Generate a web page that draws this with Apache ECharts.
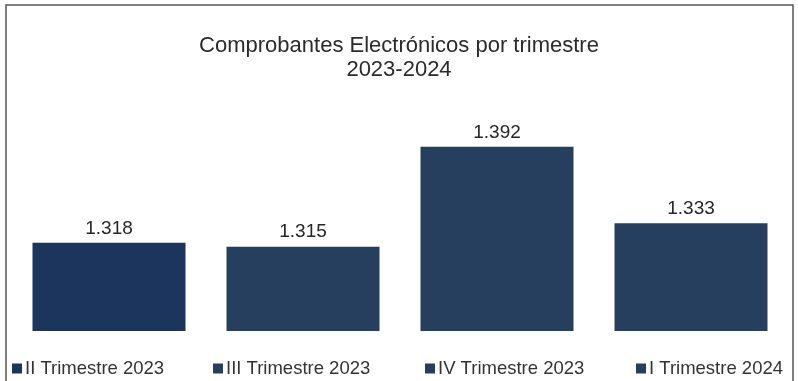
<!DOCTYPE html>
<html><head><meta charset="utf-8">
<script src="https://cdn.jsdelivr.net/npm/echarts@6/dist/echarts.min.js"></script>
<style>html,body{margin:0;padding:0;background:#fff}#c{width:798px;height:381px}</style>
</head><body><div id="c"></div>
<script>
var categories = ['II Trimestre 2023','III Trimestre 2023','IV Trimestre 2023','I Trimestre 2024'];
var values = [1.318, 1.315, 1.392, 1.333];
var colors = ['#1c355c','#273f5f','#273f5f','#273f5f'];
var legendLeft = [12, 213, 425, 636];

var chart = echarts.init(document.getElementById('c'));
var series = categories.map(function(name, i){
  var d = categories.map(function(_, j){ return j === i ? values[i] : null; });
  return {
    name: name, type: 'bar', stack: 'all', data: d, barWidth: 153,
    itemStyle: {color: colors[i]},
    label: {show: true, position: 'top', distance: 5, color: '#262626',
      fontFamily: 'Liberation Sans', fontSize: 19,
      formatter: function(p){ return p.value.toFixed(3); }}
  };
});
chart.setOption({
  animation: false,
  title: {text: 'Comprobantes Electrónicos por trimestre\n2023-2024', left: 'center', top: 34, padding: 0,
    textStyle: {fontFamily: 'Liberation Sans', fontSize: 22, fontWeight: 'normal', color: '#2b2b2b', lineHeight: 24}},
  legend: categories.map(function(name, i){
    return {data: [name], left: legendLeft[i], top: 359, padding: 0, icon: 'rect', itemWidth: 10, itemHeight: 10, itemGap: 0,
      textStyle: {fontFamily: 'Liberation Sans', fontSize: 18.5, color: '#333', padding: [0,0,0,-2]}};
  }),
  grid: {left: 12, right: 10, top: 120, bottom: 50},
  xAxis: {type: 'category', data: categories, show: false},
  yAxis: {type: 'value', min: 1.25, max: 1.4127, show: false},
  graphic: [{type: 'rect', shape: {x: 6, y: 5, width: 787, height: 390},
    style: {fill: 'none', stroke: '#555', lineWidth: 1.5}, silent: true}],
  series: series
});
</script></body></html>
